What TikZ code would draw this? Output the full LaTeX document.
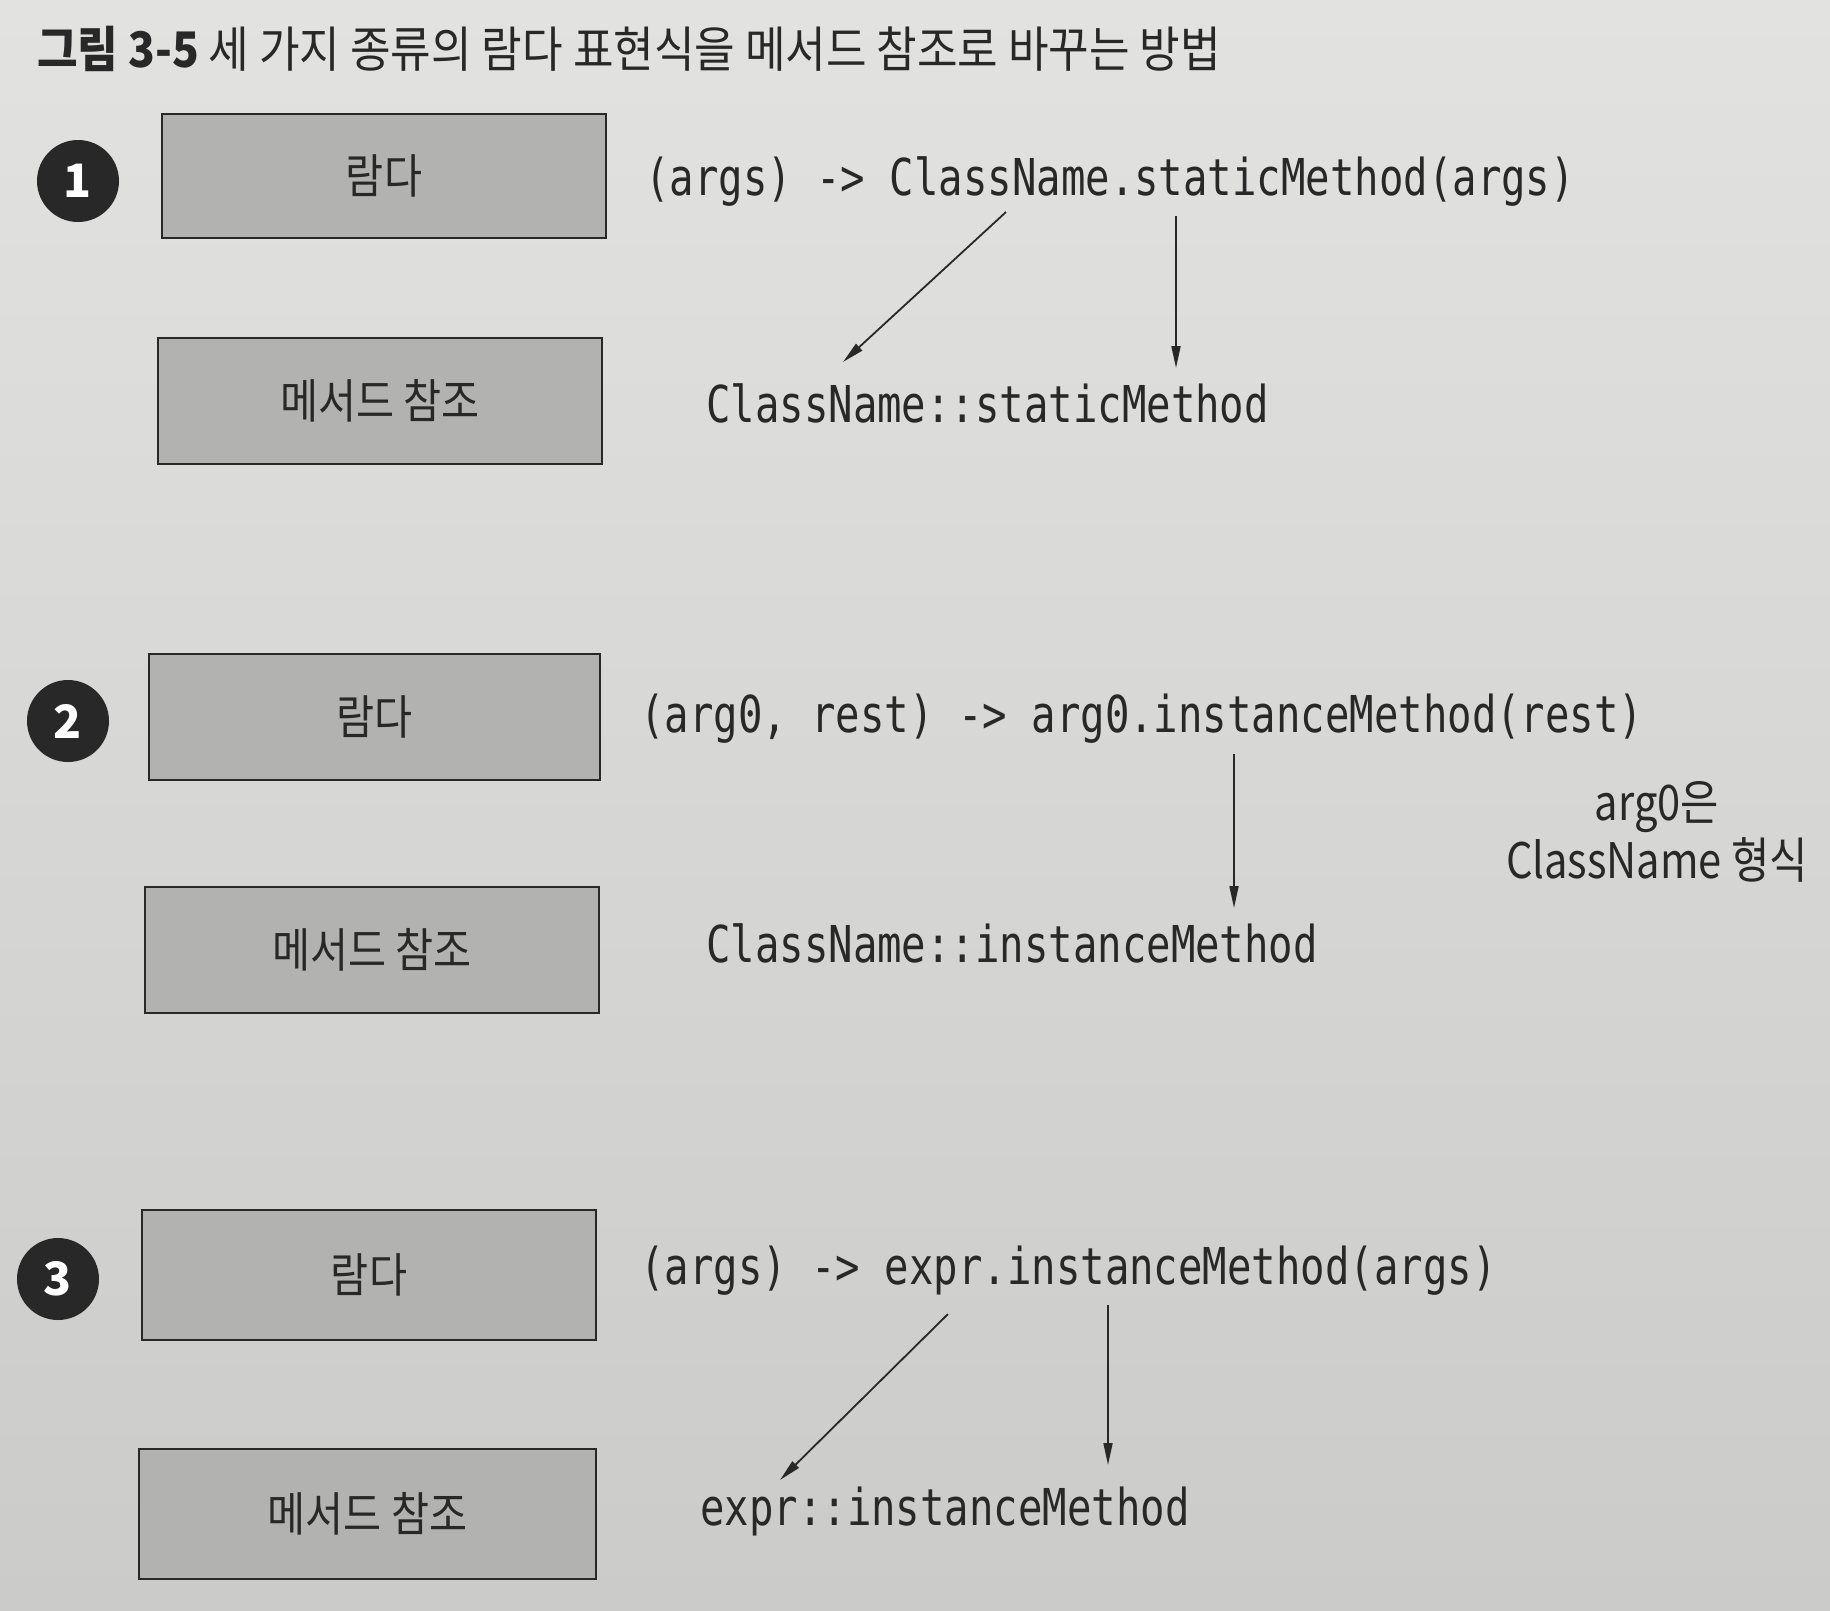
\documentclass[tikz,border=0pt]{standalone}
\usepackage{fontspec}
\usetikzlibrary{arrows.meta}
\newfontfamily\krtitle[FakeStretch=0.9]{Noto Sans CJK KR}
\newfontfamily\krbox[FakeStretch=0.88]{Noto Sans CJK KR}
\newfontfamily\krnote[FakeStretch=0.85]{Noto Sans CJK KR}
\newfontfamily\krnum{Noto Sans CJK KR}
\newfontfamily\codefont[FakeStretch=0.8]{DejaVu Sans Mono}
\definecolor{bgtop}{RGB}{226,226,225}
\definecolor{bgbot}{RGB}{203,203,201}
\definecolor{boxfill}{RGB}{178,178,177}
\definecolor{ink}{RGB}{40,40,40}
\tikzset{
  refbox/.style={draw=ink, line width=2.6pt, fill=boxfill, inner sep=0pt,
    font=\krbox\fontsize{47}{52}\selectfont, text=ink},
  numdot/.style={circle, fill=ink, inner sep=0pt, minimum size=82pt,
    font=\krnum\bfseries\fontsize{46}{50}\selectfont, text=white},
  code/.style={anchor=west, inner sep=0pt, text=ink,
    font=\codefont\fontsize{50.8}{56}\selectfont},
  note/.style={inner sep=0pt, text=ink, align=center,
    font=\krnote\fontsize{49}{58}\selectfont},
  conn/.style={draw=ink, line width=1.8pt, -{Triangle[length=22pt,width=9pt]}},
}
\begin{document}
\begin{tikzpicture}[x=1pt,y=-1pt]
\useasboundingbox (0,0) rectangle (1830,1610);
\shade[top color=bgtop, bottom color=bgbot] (0,0) rectangle (1830,1610);

% title
\node[anchor=west, inner sep=0pt, text=ink, font=\krtitle\fontsize{49}{54}\selectfont]
  (title) at (37,49) {{\bfseries 그림 3-5} 세 가지 종류의 람다 표현식을 메서드 참조로 바꾸는 방법};

% section 1
\node[numdot] (n1) at (78,181) {1};
\node[refbox, minimum width=444pt, minimum height=124pt] (lam1) at (384,176) {람다};
\node[refbox, minimum width=444pt, minimum height=126pt] (ref1) at (380,401) {메서드 참조};
\node[code] (l1) at (645,182) {(args) -> ClassName.staticMethod(args)};
\node[code] (m1) at (706,403) {ClassName::staticMethod};
\coordinate (a1s) at (1006,212);
\coordinate (a1e) at (843,362);
\coordinate (b1s) at (1176,216);
\coordinate (b1e) at (1176,368);
\draw[conn] (a1s) -- (a1e);
\draw[conn] (b1s) -- (b1e);

% section 2
\node[numdot] (n2) at (68,721) {2};
\node[refbox, minimum width=451pt, minimum height=126pt] (lam2) at (374.5,717) {람다};
\node[refbox, minimum width=454pt, minimum height=126pt] (ref2) at (372,950) {메서드 참조};
\node[code] (l2) at (640,719) {(arg0, rest) -> arg0.instanceMethod(rest)};
\node[code] (m2) at (706,943) {ClassName::instanceMethod};
\coordinate (b2s) at (1234,754);
\coordinate (b2e) at (1234,908);
\draw[conn] (b2s) -- (b2e);
\node[note] (note2) at (1657,832) {arg0은\\ClassName 형식};

% section 3
\node[numdot] (n3) at (58,1279) {3};
\node[refbox, minimum width=454pt, minimum height=130pt] (lam3) at (369,1275) {람다};
\node[refbox, minimum width=457pt, minimum height=130pt] (ref3) at (367.5,1514) {메서드 참조};
\node[code] (l3) at (640,1271) {(args) -> expr.instanceMethod(args)};
\node[code] (m3) at (700,1511) {expr::instanceMethod};
\coordinate (a3s) at (948,1314);
\coordinate (a3e) at (780,1480);
\coordinate (b3s) at (1108,1305);
\coordinate (b3e) at (1108,1465);
\draw[conn] (a3s) -- (a3e);
\draw[conn] (b3s) -- (b3e);
\end{tikzpicture}
\end{document}
